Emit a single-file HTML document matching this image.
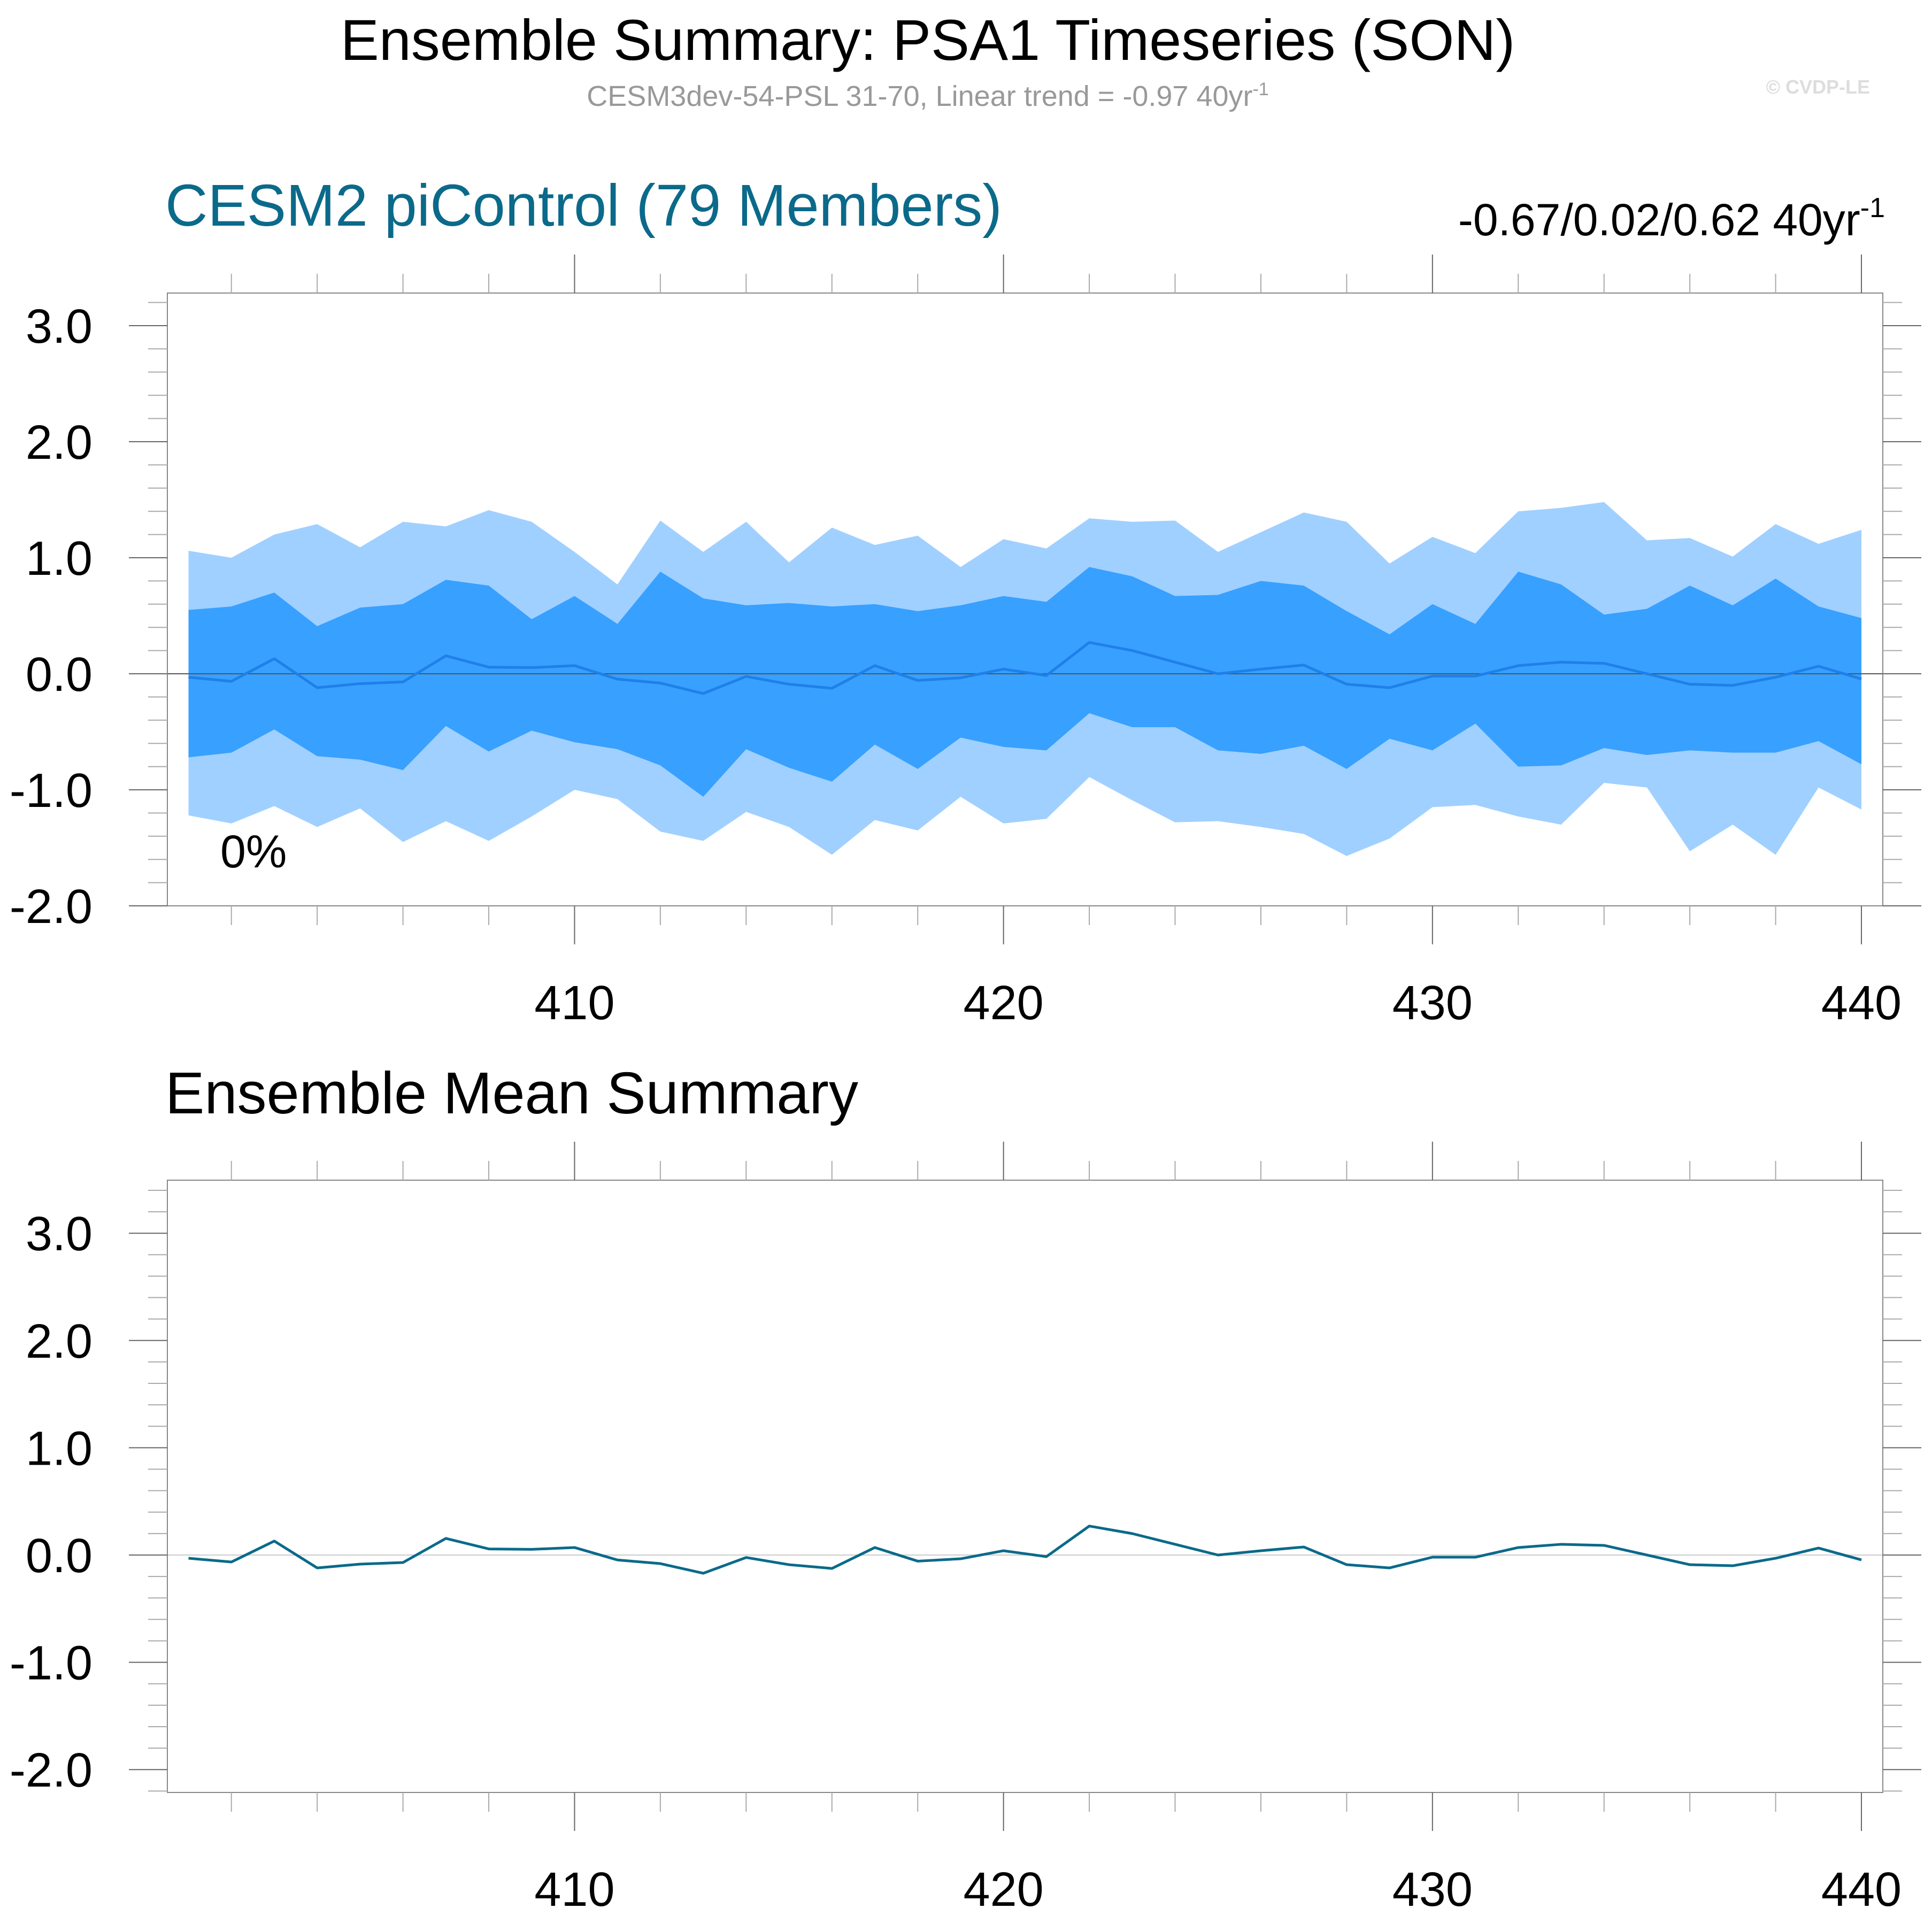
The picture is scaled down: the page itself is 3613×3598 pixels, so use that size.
<!DOCTYPE html>
<html><head><meta charset="utf-8">
<style>
html,body{margin:0;padding:0;background:#fff;}
svg{display:block;font-family:"Liberation Sans",Arial,sans-serif;}
</style></head>
<body>
<svg id="chart" width="3613" height="3598" viewBox="0 0 3613 3598" xmlns="http://www.w3.org/2000/svg">
<rect width="3613" height="3598" fill="#fff"/>
<text x="1735" y="112" font-size="108" text-anchor="middle" fill="#000">Ensemble Summary: PSA1 Timeseries (SON)</text>
<text x="1735" y="198" font-size="54" text-anchor="middle" fill="#999">CESM3dev-54-PSL 31-70, Linear trend = -0.97 40yr<tspan dy="-20" font-size="34">-1</tspan></text>
<text x="3497" y="175" font-size="36" font-weight="bold" text-anchor="end" fill="#ddd">© CVDP-LE</text>
<text x="309" y="422" font-size="110" fill="#0b6a8a">CESM2 piControl (79 Members)</text>
<text x="3525" y="440" font-size="84" text-anchor="end" fill="#000">-0.67/0.02/0.62 40yr<tspan dy="-34" font-size="52">-1</tspan></text>
<text x="309" y="2082" font-size="110" fill="#000">Ensemble Mean Summary</text>
<g id="p1"></g>
<g id="p2"></g>
</svg>
<script>
const years = [];
for (let y = 401; y <= 440; y++) years.push(y);
const meanVals = [-0.03,-0.065,0.13,-0.12,-0.085,-0.07,0.155,0.057,0.053,0.07,-0.046,-0.08,-0.17,-0.023,-0.09,-0.125,0.07,-0.057,-0.035,0.04,
 -0.015,0.27,0.20,0.10,0.0,0.04,0.075,-0.09,-0.12,-0.02,-0.02,0.07,0.10,0.09,0.0,-0.09,-0.10,-0.03,0.065,-0.045];
const hiOuter = [1.06,1.00,1.20,1.29,1.09,1.31,1.27,1.41,1.31,1.05,0.77,1.32,1.05,1.31,0.96,1.26,1.11,1.19,0.92,1.16,
 1.08,1.34,1.31,1.32,1.05,1.22,1.39,1.31,0.95,1.18,1.04,1.40,1.43,1.48,1.15,1.17,1.01,1.29,1.12,1.24];
const hiInner = [0.55,0.58,0.70,0.41,0.57,0.60,0.81,0.76,0.47,0.67,0.43,0.88,0.65,0.59,0.61,0.58,0.60,0.54,0.59,0.67,
 0.62,0.92,0.84,0.67,0.68,0.80,0.76,0.54,0.34,0.60,0.43,0.88,0.77,0.51,0.56,0.76,0.59,0.82,0.58,0.48];
const loInner = [-0.72,-0.68,-0.48,-0.71,-0.74,-0.83,-0.45,-0.67,-0.49,-0.59,-0.65,-0.79,-1.06,-0.65,-0.81,-0.93,-0.61,-0.82,-0.55,-0.63,
 -0.66,-0.34,-0.46,-0.46,-0.66,-0.69,-0.62,-0.82,-0.56,-0.66,-0.43,-0.80,-0.79,-0.64,-0.70,-0.66,-0.68,-0.68,-0.58,-0.78];
const loOuter = [-1.22,-1.29,-1.14,-1.32,-1.16,-1.45,-1.27,-1.44,-1.23,-1.00,-1.08,-1.36,-1.44,-1.19,-1.32,-1.56,-1.26,-1.35,-1.06,-1.29,
 -1.25,-0.89,-1.09,-1.28,-1.27,-1.32,-1.38,-1.57,-1.42,-1.15,-1.13,-1.23,-1.30,-0.94,-0.98,-1.53,-1.30,-1.56,-0.98,-1.17];
const yTickVals = [3,2,1,0,-1,-2];
const yTickLabels = ["3.0","2.0","1.0","0.0","-1.0","-2.0"];
const xTickVals = [410,420,430,440];
const xTickLabels = ["410","420","430","440"];

const NS = "http://www.w3.org/2000/svg";
function mk(parent, tag, attrs) {
  const e = document.createElementNS(NS, tag);
  for (const k in attrs) e.setAttribute(k, attrs[k]);
  parent.appendChild(e);
  return e;
}
const L = 313, R = 3521;
function xs(yr) { return 352.5 + (yr - 401) * (3481 - 352.5) / 39; }

function drawPanel(g, top, bottom, zeroY, unit, yMin, yMax, bands) {
  const ys = v => zeroY - v * unit;
  if (bands) {
    const poly = (up, lo, fill, name) => {
      let pts = years.map((y, i) => xs(y) + "," + ys(up[i]));
      for (let i = years.length - 1; i >= 0; i--) pts.push(xs(years[i]) + "," + ys(lo[i]));
      const p = mk(g, "polygon", {points: pts.join(" "), fill: fill});
      
      
    };
    poly(hiOuter, loOuter, "#a0d0ff", "outer-range-band");
    poly(hiInner, loInner, "#38a0ff", "inner-range-band");
  }
  const zl = mk(g, "line", {x1: L, x2: R, y1: ys(0), y2: ys(0), stroke: bands ? "#555" : "#ccc", "stroke-width": 2});
  
  
  const ml = mk(g, "polyline", {points: years.map((y, i) => xs(y) + "," + ys(meanVals[i])).join(" "),
    fill: "none", stroke: bands ? "#1e80e8" : "#0b6a8a", "stroke-width": 5, "stroke-linejoin": "round"});
  
  
  const box = mk(g, "rect", {x: L, y: top, width: R - L, height: bottom - top, fill: "none", stroke: "#888", "stroke-width": 2});
  
  
  for (let k = Math.ceil(yMin * 5); k <= Math.floor(yMax * 5); k++) {
    const v = k / 5, y = ys(v), major = (k % 5 === 0);
    const len = major ? 72 : 36;
    const t1 = mk(g, "line", {x1: L - len, x2: L, y1: y, y2: y, stroke: major ? "#666" : "#aaa", "stroke-width": 2});
    
    
    const t2 = mk(g, "line", {x1: R, x2: R + len, y1: y, y2: y, stroke: major ? "#666" : "#aaa", "stroke-width": 2});
    
    
  }
  yTickVals.forEach((v, i) => {
    const t = mk(g, "text", {x: 173, y: ys(v) + 32, "font-size": 90, "text-anchor": "end", fill: "#000"});
    t.textContent = yTickLabels[i];
    
    
  });
  for (let yr = 402; yr <= 440; yr += 2) {
    const x = xs(yr), major = (yr % 10 === 0);
    const len = major ? 72 : 36;
    const a = mk(g, "line", {x1: x, x2: x, y1: top - len, y2: top, stroke: major ? "#666" : "#aaa", "stroke-width": 2});
    
    
    const b = mk(g, "line", {x1: x, x2: x, y1: bottom, y2: bottom + len, stroke: major ? "#666" : "#aaa", "stroke-width": 2});
    
    
  }
  xTickVals.forEach((v, i) => {
    const t = mk(g, "text", {x: xs(v), y: bottom + 212, "font-size": 90, "text-anchor": "middle", fill: "#000"});
    t.textContent = xTickLabels[i];
    
    
  });
}
const p1 = document.getElementById("p1");
drawPanel(p1, 548, 1694, 1260, 217, -2.0, 3.28, true);
const pct = mk(p1, "text", {x: 412, y: 1622, "font-size": 86, fill: "#000"});
pct.textContent = "0%";


drawPanel(document.getElementById("p2"), 2207, 3352, 2908, 200.6, -2.2, 3.5, false);
</script>
</body></html>
